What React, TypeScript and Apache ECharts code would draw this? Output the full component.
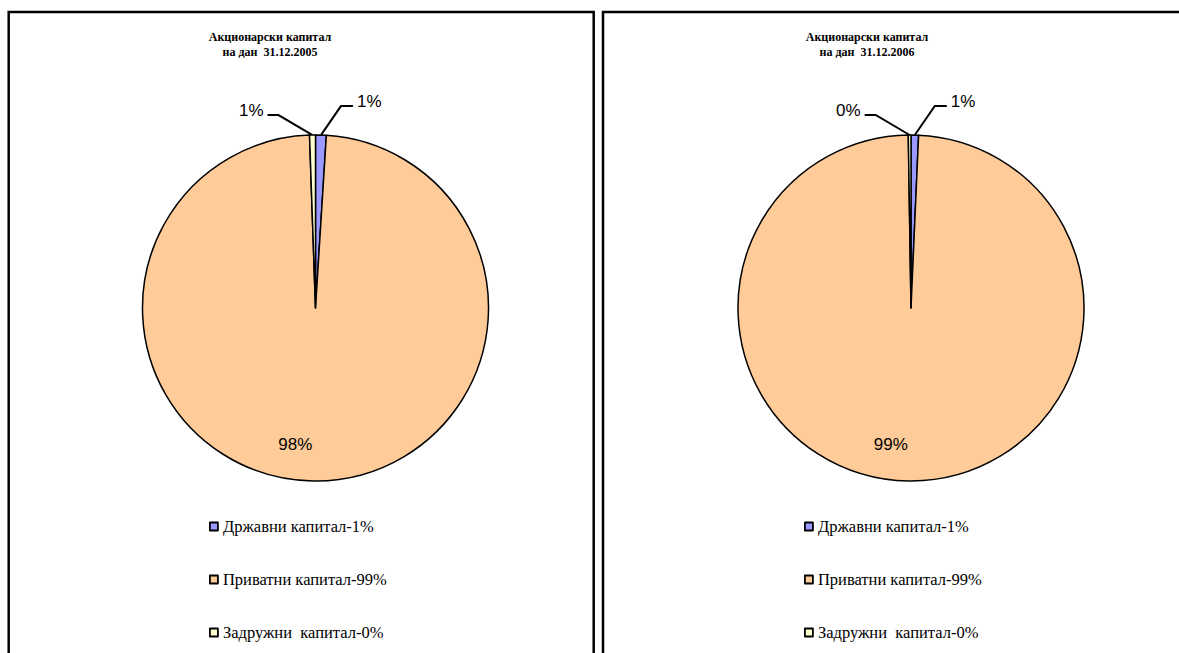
import React, { useEffect, useRef } from "react";
import * as echarts from "echarts";

const categories = ["Државни капитал-1%", "Приватни капитал-99%", "Задружни  капитал-0%"];
const colors = ["#9999FF", "#FFCC99", "#FFFFCC"];
const values2005 = [1.0, 98.45, 0.55];
const values2006 = [0.7, 99.05, 0.25];
const titles = ["Акционарски капитал\nна дан  31.12.2005", "Акционарски капитал\nна дан  31.12.2006"];

export default function App() {
  const ref = useRef<HTMLDivElement>(null);
  useEffect(() => {
    if (!ref.current) return;
    const chart = echarts.init(ref.current, undefined, { renderer: "svg" });

    const makeData = (vals: number[]) =>
      vals.map((v, i) => ({
        name: categories[i],
        value: v,
        itemStyle: { color: colors[i] },
        label:
          i === 1
            ? { position: "inside", offset: [-19, 47] }
            : { position: "outside" },
        labelLine: { show: i !== 1 },
      }));

    const labelLayout = (p: any) => {
      const pts = p.labelLinePoints;
      if (!pts || p.dataIndex === 1) return {};
      const [x0, y0] = pts[0];
      if (p.dataIndex === 0) {
        return {
          x: x0 + 36,
          y: y0 - 34,
          align: "left",
          verticalAlign: "middle",
          labelLinePoints: [
            [x0, y0],
            [x0 + 20, y0 - 29],
            [x0 + 32, y0 - 29],
          ],
        };
      }
      return {
        x: x0 - 49,
        y: y0 - 25,
        align: "right",
        verticalAlign: "middle",
        labelLinePoints: [
          [x0, y0],
          [x0 - 34, y0 - 20],
          [x0 - 45, y0 - 20],
        ],
      };
    };

    const pieSeries = (vals: number[], cx: number) => ({
      type: "pie",
      center: [cx, 308],
      radius: 173,
      startAngle: 90,
      clockwise: true,
      avoidLabelOverlap: false,
      percentPrecision: 0,
      silent: true,
      itemStyle: { borderColor: "#000", borderWidth: 1.5 },
      label: {
        show: true,
        formatter: "{d}%",
        fontFamily: "Liberation Sans",
        fontSize: 17,
        color: "#000",
      },
      labelLine: {
        show: true,
        length: 30,
        length2: 12,
        lineStyle: { color: "#000", width: 2 },
      },
      labelLayout,
      emphasis: { disabled: true },
      data: makeData(vals),
    });

    const legendCommon = {
      orient: "vertical",
      top: 518,
      padding: 0,
      itemWidth: 8,
      itemHeight: 8,
      itemGap: 36,
      icon: "rect",
      selectedMode: false,
      itemStyle: { borderColor: "#000", borderWidth: 1.8 },
      textStyle: { fontFamily: "Liberation Serif", fontSize: 16.5, color: "#000" },
      data: categories,
    };

    chart.setOption({
      animation: false,
      backgroundColor: "#fff",
      graphic: [
        {
          type: "rect",
          shape: { x: 8.7, y: 12, width: 585, height: 700 },
          style: { fill: "none", stroke: "#000", lineWidth: 2.5 },
        },
        {
          type: "rect",
          shape: { x: 603, y: 12, width: 620, height: 700 },
          style: { fill: "none", stroke: "#000", lineWidth: 2.5 },
        },
        {
          type: "text",
          x: 270,
          y: 29,
          style: {
            text: titles[0],
            textAlign: "center",
            font: 'bold 12px "Liberation Serif"',
            lineHeight: 15,
            fill: "#000",
          },
        },
        {
          type: "text",
          x: 867,
          y: 29,
          style: {
            text: titles[1],
            textAlign: "center",
            font: 'bold 12px "Liberation Serif"',
            lineHeight: 15,
            fill: "#000",
          },
        },
      ],
      legend: [
        { ...legendCommon, left: 209 },
        { ...legendCommon, left: 804 },
      ],
      series: [pieSeries(values2005, 315.5), pieSeries(values2006, 911)],
    });
    return () => chart.dispose();
  }, []);
  return (
    <div
      ref={ref}
      style={{ position: "fixed", left: 0, top: 0, width: 1179, height: 653 }}
    />
  );
}
